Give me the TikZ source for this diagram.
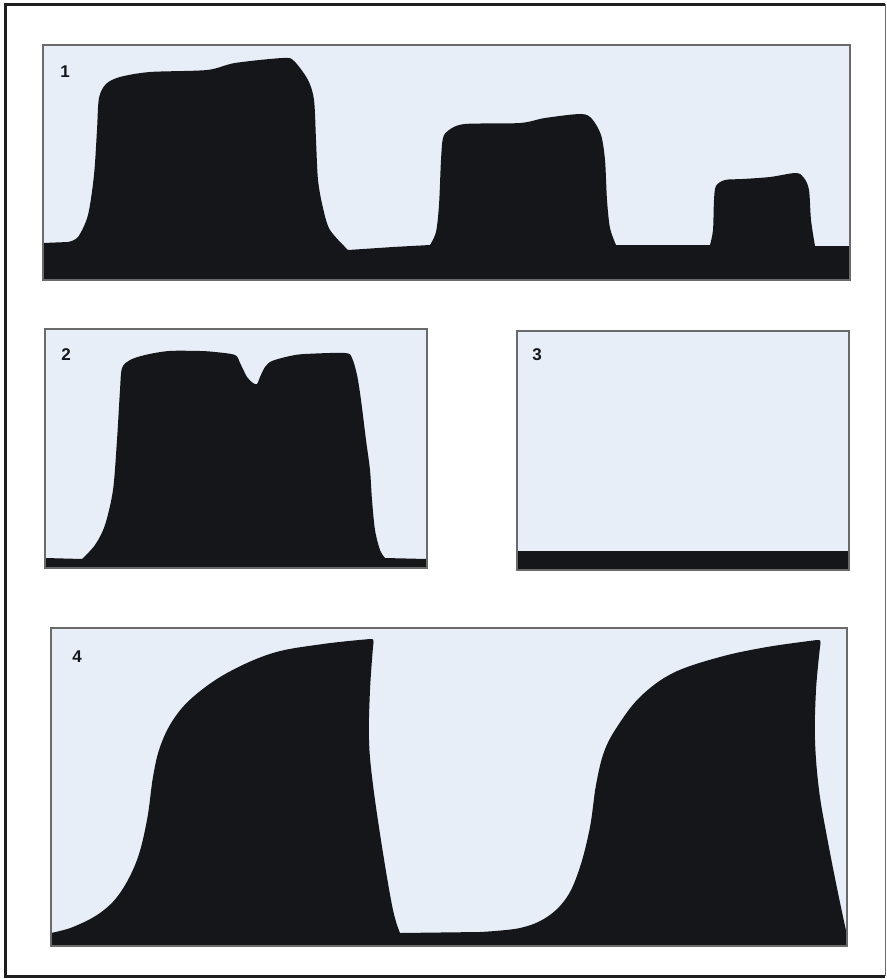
\documentclass[tikz,border=0pt]{standalone}
\usepackage{fontspec}
\setmainfont{Liberation Sans}
\usepackage{tikz}
\definecolor{skyfill}{HTML}{E7EEF8}
\definecolor{inkblack}{HTML}{151619}
\definecolor{boxgray}{HTML}{6A6A6A}
\definecolor{framedark}{HTML}{1E1E1E}

\begin{document}
\begin{tikzpicture}[x=1pt, y=-1pt,
    panel/.style={fill=skyfill},
    panelrim/.style={draw=boxgray, line width=1.4pt},
    ground/.style={fill=inkblack},
    tag/.style={font=\fontsize{17}{17}\selectfont\bfseries, text=inkblack, inner sep=0pt}]
  \useasboundingbox (0,0) rectangle (886,979);
  \fill[white] (0,0) rectangle (886,979);
  % outer frame
  \draw[framedark, line width=3pt] (885,4.5) -- (5.5,4.5) -- (5.5,976) -- (885,976);
  \draw[boxgray, line width=1pt] (885,4.5) -- (885,976);

  % panel 1
  \fill[panel] (43,45) rectangle (850,280);
  \fill[ground] (43,280) -- (43,243) -- (68,242)
    -- plot[smooth, tension=0.5] coordinates {(68,242) (78,237) (88,215) (94,175) (97,130) (99,98) (106,84) (120,77) (150,72) (207,70) (235,63) (283,58) (294,61) (308,80) (314,100) (316,140) (318,180) (323,208) (330,230) (348,250)}
    -- (393,247) -- (430,245)
    -- plot[smooth, tension=0.5] coordinates {(430,245) (436,232) (439,205) (441,160) (443,138) (449,130) (465,124) (520,123) (545,118) (581,114) (592,119) (601,135) (605,160) (607,200) (610,228) (616,245)}
    -- (710,245)
    -- plot[smooth, tension=0.5] coordinates {(710,245) (713,230) (714,200) (716,186) (725,180) (743,179) (770,177) (796,173) (804,178) (809,190) (811,220) (815,246)}
    -- (850,246) -- (850,280) -- cycle;
  \draw[panelrim] (43,45) rectangle (850,280);
  \node[tag] (tag1) at (65,72) {1};

  % panel 2
  \fill[panel] (45,329) rectangle (427,568);
  \fill[ground] (45,568) -- (45,558) -- (82,559)
    -- plot[smooth, tension=0.5] coordinates {(82,559) (95,545) (105,525) (113,490) (117,440) (120,390) (122,368) (130,360) (145,355) (169,351) (200,351) (215,352) (235,355) (240,363) (247,377) (253,383) (257,384) (260,377) (265,367) (272,361) (290,356) (305,354) (345,353) (352,358) (357,375) (361,400) (366,440) (370,470) (372,500) (375,530) (380,550) (385,558)}
    -- (427,559) -- (427,568) -- cycle;
  \draw[panelrim] (45,329) rectangle (427,568);
  \node[tag] (tag2) at (66,355) {2};

  % panel 3
  \fill[panel] (517,331) rectangle (849,570);
  \fill[ground] (517,551) rectangle (849,570);
  \draw[panelrim] (517,331) rectangle (849,570);
  \node[tag] (tag3) at (537,355) {3};

  % panel 4
  \fill[panel] (51,628) rectangle (847,946);
  \fill[ground] (51,946) -- (51,933)
    -- plot[smooth, tension=0.6] coordinates {(51,933) (73,927) (100,913) (120,893) (137,860) (147,820) (153,777) (160,747) (173,720) (193,697) (227,673) (273,653) (323,644) (370,639)}
    .. controls (374,639) .. (373,647)
    -- plot[smooth, tension=0.6] coordinates {(373,647) (370,690) (369,740) (373,785) (383,853) (393,910) (400,933)}
    -- (480,932)
    -- plot[smooth, tension=0.6] coordinates {(480,932) (520,928) (547,917) (567,897) (580,867) (590,827) (596,785) (604,752) (617,727) (640,697) (673,673) (720,657) (767,647) (817,640)}
    .. controls (821,640) .. (820,647)
    -- plot[smooth, tension=0.6] coordinates {(820,647) (816,690) (815,740) (819,790) (827,837) (838,893) (847,935)}
    -- (847,946) -- cycle;
  \draw[panelrim] (51,628) rectangle (847,946);
  \node[tag] (tag4) at (77,657) {4};
\end{tikzpicture}
\end{document}
